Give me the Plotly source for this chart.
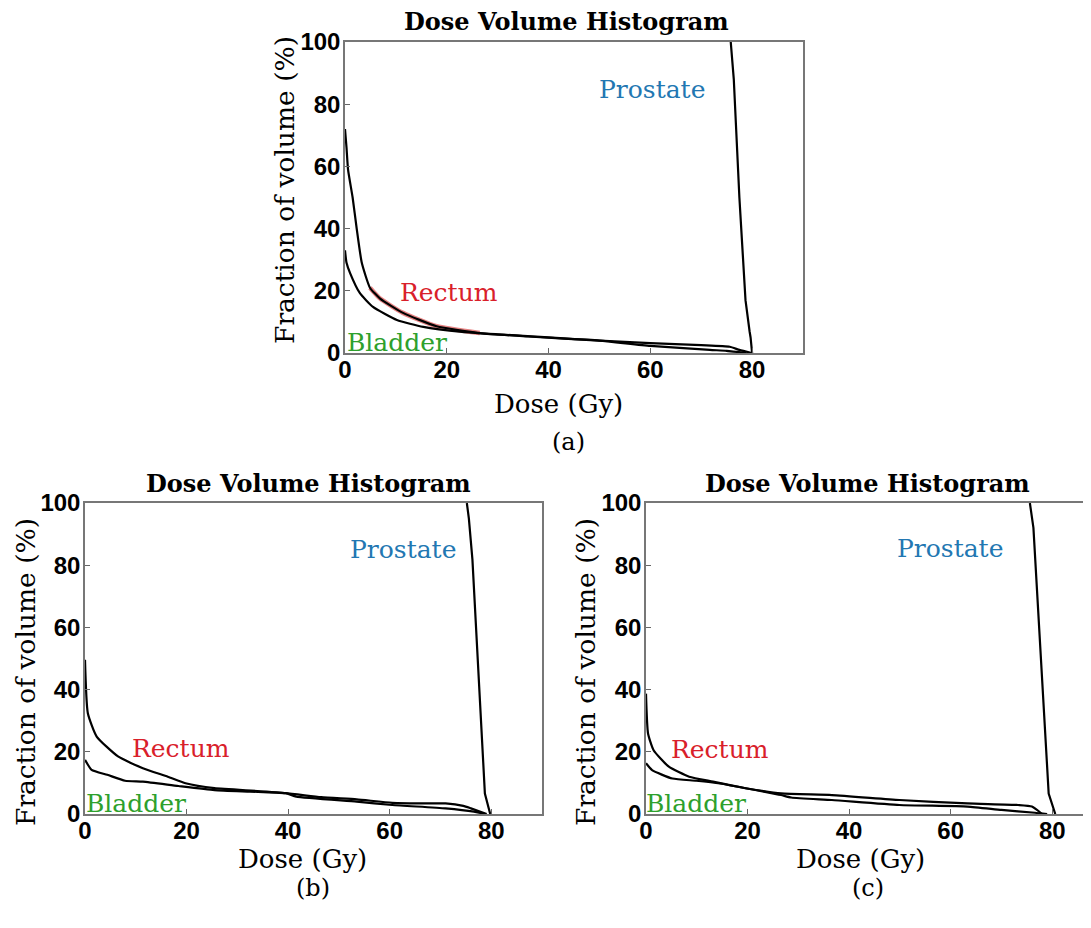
import plotly.graph_objects as go

W, H = 1091, 928
OFF = 8  # page body margin

# ---------------- data ----------------
# panel (a)
a_prostate_x = [75.8, 76.1, 76.4, 77.5, 78.7, 79.5, 79.7, 80.0]
a_prostate_y = [100, 95, 88, 50, 17, 7, 5, 0]
a_rectum_x = [0, 0.3, 0.6, 1.5, 2.3, 3.3, 4.9, 6.9, 11.4, 18, 26.5, 36, 50, 60, 70, 75.6, 77.5, 79.9]
a_rectum_y = [72, 66, 59, 50, 40, 29, 21, 17.5, 12.9, 8.6, 6.4, 5.3, 4.0, 3.2, 2.5, 2.0, 1.0, 0]
a_bladder_x = [0, 0.3, 1.0, 2.9, 5.5, 10.2, 15.4, 23, 30, 40, 50, 60, 71.7, 75, 78.9]
a_bladder_y = [33, 29, 25.7, 19.3, 14.8, 10.6, 8.4, 6.8, 6.0, 5.0, 4.0, 2.3, 1.0, 0.7, 0]

# panel (b)
b_prostate_x = [75.2, 75.6, 76.3, 78.75, 79.8]
b_prostate_y = [100, 95, 81.8, 6.6, 0]
b_rectum_x = [0, 0.56, 2.3, 6.5, 11.4, 16.3, 19.8, 25.5, 39.5, 41.6, 53.5, 60.5, 71, 76.6, 78.8]
b_rectum_y = [49.6, 32.4, 24.9, 18.5, 14.7, 12.0, 9.9, 8.3, 6.7, 5.6, 4.0, 2.9, 1.8, 0.75, 0]
b_bladder_x = [0, 1.3, 4.4, 7.9, 11.4, 18.4, 25.5, 32.5, 39.5, 46.5, 53.5, 60.5, 67.5, 71, 74.5, 76, 79.1]
b_bladder_y = [17.4, 14.2, 12.6, 10.7, 10.4, 9.0, 7.7, 7.2, 6.7, 5.4, 4.7, 3.6, 3.4, 3.4, 2.6, 1.8, 0]

# panel (c)
c_prostate_x = [75.6, 76.3, 79.3, 80.6]
c_prostate_y = [100, 92, 6.6, 0]
c_rectum_x = [0, 0.4, 1.5, 4.5, 8.5, 13.2, 19.9, 23.2, 26.6, 28.6, 36.6, 49.9, 63.3, 70, 76.6, 79]
c_rectum_y = [38.7, 25.9, 20.5, 15.2, 12.0, 10.4, 8.2, 7.2, 6.1, 5.3, 4.5, 2.9, 2.4, 1.3, 0.4, 0]
c_bladder_x = [0, 1.2, 5.2, 9.9, 14.6, 19.9, 26.6, 36.6, 49.9, 63.3, 73.3, 76, 78]
c_bladder_y = [16.3, 14.1, 11.4, 10.7, 9.8, 8.2, 6.6, 6.1, 4.5, 3.4, 2.9, 2.4, 0]

x_ticks = [0, 20, 40, 60, 80]
y_ticks = [0, 20, 40, 60, 80, 100]
title_text = "Dose Volume Histogram"
xlabel_text = "Dose (Gy)"
ylabel_text = "Fraction of volume (%)"
captions = ["(a)", "(b)", "(c)"]
organ_labels = ["Prostate", "Rectum", "Bladder"]
organ_colors = ["#2277b2", "#d9202a", "#2ea02c"]
# label positions (data coords) per panel: prostate, rectum, bladder
label_pos = [
    [(60.3, 84.6), (20.4, 19.6), (10.2, 3.5)],
    [(62.6, 84.9), (18.9, 21.2), (10.0, 3.5)],
    [(59.9, 85.5), (14.6, 20.6), (9.8, 3.5)],
]

panels = [
    (a_prostate_x, a_prostate_y, a_rectum_x, a_rectum_y, a_bladder_x, a_bladder_y),
    (b_prostate_x, b_prostate_y, b_rectum_x, b_rectum_y, b_bladder_x, b_bladder_y),
    (c_prostate_x, c_prostate_y, c_rectum_x, c_rectum_y, c_bladder_x, c_bladder_y),
]

# pixel boxes of the plot areas in the page: (left, top, right, bottom)
boxes = [(345, 42, 803, 353), (85, 503, 542, 814), (646, 503, W + OFF, 814)]
x_ranges = [[0, 90], [0, 90], [0, 90 * (W + OFF - 646) / 457]]

SERIF = "DejaVu Serif"
SANS = "Liberation Sans"

fig = go.Figure()

def px(x):
    return min(1.0, max(0.0, (x - OFF) / W))

def py(y):
    return min(1.0, max(0.0, 1 - (y - OFF) / H))

for i, (px_, py_, rx, ry, bx, by) in enumerate(panels):
    xa = "x" if i == 0 else f"x{i+1}"
    ya = "y" if i == 0 else f"y{i+1}"
    if i == 0:
        # faint red halo along rectum curve in panel (a)
        sx = [x for x in rx if 4 <= x <= 27]
        sy = [y for x, y in zip(rx, ry) if 4 <= x <= 27]
        fig.add_trace(go.Scatter(x=sx, y=sy, mode="lines", xaxis=xa, yaxis=ya,
                                 line=dict(color="rgba(210,30,30,0.55)", width=4.5, shape="spline",
                                           smoothing=0.5),
                                 showlegend=False, hoverinfo="skip"))
    fig.add_trace(go.Scatter(x=px_, y=py_, mode="lines", xaxis=xa, yaxis=ya,
                             line=dict(color="black", width=2.2), showlegend=False))
    for xs, ys in [(rx, ry), (bx, by)]:
        fig.add_trace(go.Scatter(x=xs, y=ys, mode="lines", xaxis=xa, yaxis=ya,
                                 line=dict(color="black", width=2.2, shape="spline", smoothing=0.5),
                                 showlegend=False))

layout = dict(width=W, height=H, margin=dict(l=0, r=0, t=0, b=0, pad=0, autoexpand=False),
              template="none",
              paper_bgcolor="white", plot_bgcolor="white", showlegend=False)

annotations = []
for i, (l, t, r, b) in enumerate(boxes):
    xk = "xaxis" if i == 0 else f"xaxis{i+1}"
    yk = "yaxis" if i == 0 else f"yaxis{i+1}"
    ya = "y" if i == 0 else f"y{i+1}"
    xa = "x" if i == 0 else f"x{i+1}"
    layout[xk] = dict(domain=[px(l), px(r)], range=x_ranges[i], anchor=ya, automargin=False,
                      tickmode="array", tickvals=x_ticks, ticktext=[str(v) for v in x_ticks],
                      ticks="inside", ticklen=5, tickwidth=1, tickcolor="#666",
                      ticklabelstandoff=-6,
                      showline=True, linecolor="#777", linewidth=1.5,
                      mirror=True,
                      showgrid=False, zeroline=False,
                      tickfont=dict(family=SANS, size=24, color="black", weight="bold"))
    layout[yk] = dict(domain=[py(b), py(t)], range=[0, 100], anchor=xa, automargin=False,
                      tickmode="array", tickvals=y_ticks, ticktext=[str(v) for v in y_ticks],
                      ticks="inside", ticklen=5, tickwidth=1, tickcolor="#666",
                      ticklabelstandoff=-2,
                      showline=True, linecolor="#777", linewidth=1.5,
                      mirror=True if i < 2 else False,
                      showgrid=False, zeroline=False,
                      tickfont=dict(family=SANS, size=24, color="black", weight="bold"))
    for (lx, ly), txt, col in zip(label_pos[i], organ_labels, organ_colors):
        annotations.append(dict(x=lx, y=ly, xref=xa, yref=ya, text=txt, showarrow=False,
                                xanchor="center", yanchor="middle", borderpad=0,
                                font=dict(family=SERIF, size=25, color=col)))

title_pos = [(566, 22), (308, 483), (868, 483)]
xlabel_pos = [(558, 404), (302, 859), (860, 859)]
ylabel_pos = [(285, 190), (25, 672), (585, 672)]
caption_pos = [(568, 442), (313, 888), (868, 888)]
for i in range(3):
    common = dict(xref="paper", yref="paper", showarrow=False, xanchor="center", yanchor="middle",
                  borderpad=0)
    annotations.append(dict(x=px(title_pos[i][0]), y=py(title_pos[i][1]),
                            text=f"<b>{title_text}</b>",
                            font=dict(family=SERIF, size=24, color="black"), **common))
    annotations.append(dict(x=px(xlabel_pos[i][0]), y=py(xlabel_pos[i][1]),
                            text=xlabel_text,
                            font=dict(family=SERIF, size=26, color="black"), **common))
    annotations.append(dict(x=px(ylabel_pos[i][0]), y=py(ylabel_pos[i][1]),
                            text=ylabel_text, textangle=-90,
                            font=dict(family=SERIF, size=26.5, color="black"), **common))
    annotations.append(dict(x=px(caption_pos[i][0]), y=py(caption_pos[i][1]),
                            text=captions[i],
                            font=dict(family=SERIF, size=24, color="black"), **common))

layout["annotations"] = annotations
fig.update_layout(**layout)
fig.write_html("out.html")
